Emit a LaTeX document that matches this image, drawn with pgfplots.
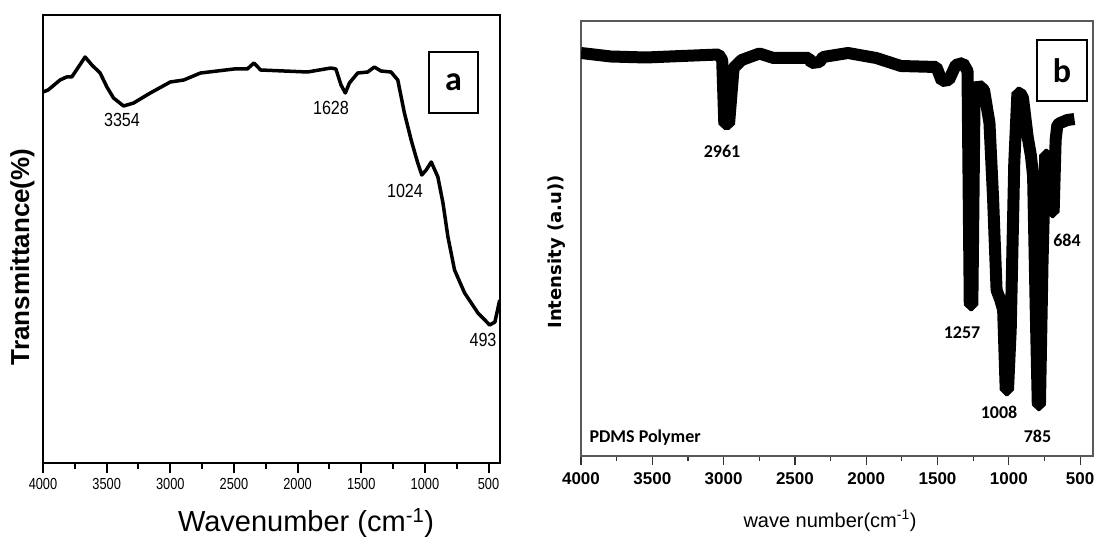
\documentclass[border=0pt]{standalone}
\usepackage{fontspec}
\setmainfont{Liberation Sans}
\newfontfamily\narrowf{Liberation Sans}[FakeStretch=0.8]
\newfontfamily\narrowfb{Liberation Sans}[FakeStretch=0.85]
\newfontfamily\carlito{Carlito}
\newfontfamily\dejavu{DejaVu Sans}
\usepackage{pgfplots}
\pgfplotsset{compat=1.18}

\pgfplotstableread{
wn y
4000 371
3960 373
3866 383
3815 386
3774 386
3669 406
3616 398
3551 390
3498 376
3446 365
3367 357
3288 360
3157 370
3000 381
2894 383
2763 390
2631 392
2500 394
2395 394
2343 400
2290 393
2106 392
1922 391
1738 395
1699 394
1659 378
1625 370
1593 380
1528 390
1449 391
1397 396
1345 392
1266 391
1213 383
1161 350
1108 323
1056 300
1024 288
990 293
950 301
898 286
858 260
819 226
767 193
688 170
583 150
491 138
450 141
412 163
}\seriesA

\pgfplotstableread{
wn y
4000 403
3791 399.5
3543 398.5
3295 400
3034 401.5
3010 396
2995 332
2962 332
2930 388
2873 396
2749 402.5
2650 398
2402 398
2385 393
2327 394
2303 399
2128 403
1930 398
1757 390
1508 389
1470 375
1420 376
1372 391
1322 393
1290 385
1274 151
1256 151
1240 366
1215 371
1174 366
1136 333
1111 259
1086 166
1060 156
1040 146
1022 66
1006 66
987 126
962 293
940 363
920 363
901 358
868 319
845 300
830 280
812 150
797 51
782 51
764 193
745 301
730 301
714 286
700 244
686 244
672 316
660 331
640 333
590 336
540 337
}\seriesB

\begin{document}
\begin{tikzpicture}[x=1pt,y=1pt]
\useasboundingbox (0,0) rectangle (1095,539);

% ---------- panel a ----------
\begin{axis}[at={(43pt,76pt)}, anchor=south west, scale only axis,
  width=457pt, height=448pt,
  xmin=410, xmax=4000, x dir=reverse, ymin=0, ymax=448,
  ytick=\empty, xtick={500,1000,...,4000}, minor x tick num=1,
  tick align=outside, xtick pos=bottom,
  major tick length=10pt, minor tick length=6pt,
  axis line style={line width=2pt},
  every tick/.style={line width=2pt, black},
  /pgf/number format/assume math mode=true,
  /pgf/number format/1000 sep={},
  xticklabel style={font=\narrowf\fontsize{16}{16}\selectfont, yshift=-2pt},
]
\addplot[black, line width=3.5pt, mark=none, line join=round] table[x=wn,y=y] {\seriesA};
\end{axis}

% ---------- panel b ----------
\begin{axis}[at={(581pt,83pt)}, anchor=south west, scale only axis,
  width=512pt, height=435pt,
  xmin=410, xmax=4000, x dir=reverse, ymin=0, ymax=435,
  ytick=\empty, xtick={500,1000,...,4000}, minor x tick num=1,
  tick align=outside, xtick pos=bottom,
  major tick length=9pt, minor tick length=5pt,
  axis line style={line width=1.2pt, black!65},
  every tick/.style={line width=1.2pt, black!80},
  /pgf/number format/assume math mode=true,
  /pgf/number format/1000 sep={},
  xticklabel style={font=\bfseries\fontsize{17}{17}\selectfont, yshift=-4pt},
]
\addplot[black, line width=12pt, mark=none, line join=bevel] table[x=wn,y=y] {\seriesB};
\end{axis}

% ---------- texts panel a ----------
\node[font=\bfseries\fontsize{26}{26}\selectfont, rotate=90] at (22.5,282) {Transmittance(\%)};
\node[font=\fontsize{29}{29}\selectfont] at (306,16) {Wavenumber (cm\textsuperscript{-1})};
\begin{scope}[every node/.style={font=\narrowfb\fontsize{19}{19}\selectfont}]
\node at (122,419) {3354};
\node at (331,431) {1628};
\node at (405,348) {1024};
\node at (483,199) {493};
\end{scope}
\node[draw, line width=1.5pt, minimum width=49pt, minimum height=61pt,
      font=\carlito\bfseries\fontsize{34}{34}\selectfont] at (453.5,456.5) {a};

% ---------- texts panel b ----------
\node[font=\dejavu\bfseries\fontsize{18}{18}\selectfont, rotate=90] at (557,287) {Intensity (a.u))};
\node[font=\fontsize{20}{20}\selectfont] at (830,18) {wave number(cm\textsuperscript{-1})};
\begin{scope}[every node/.style={font=\carlito\bfseries\fontsize{18}{18}\selectfont}]
\node at (722,388) {2961};
\node at (962,206) {1257};
\node at (999,127) {1008};
\node at (1037.5,103) {785};
\node at (1067,299) {684};
\node[anchor=west] at (586,101.5) {PDMS Polymer};
\end{scope}
\node[draw, line width=1.5pt, minimum width=50pt, minimum height=61pt,
      font=\carlito\bfseries\fontsize{34}{34}\selectfont] at (1062,468.5) {b};
\end{tikzpicture}
\end{document}
